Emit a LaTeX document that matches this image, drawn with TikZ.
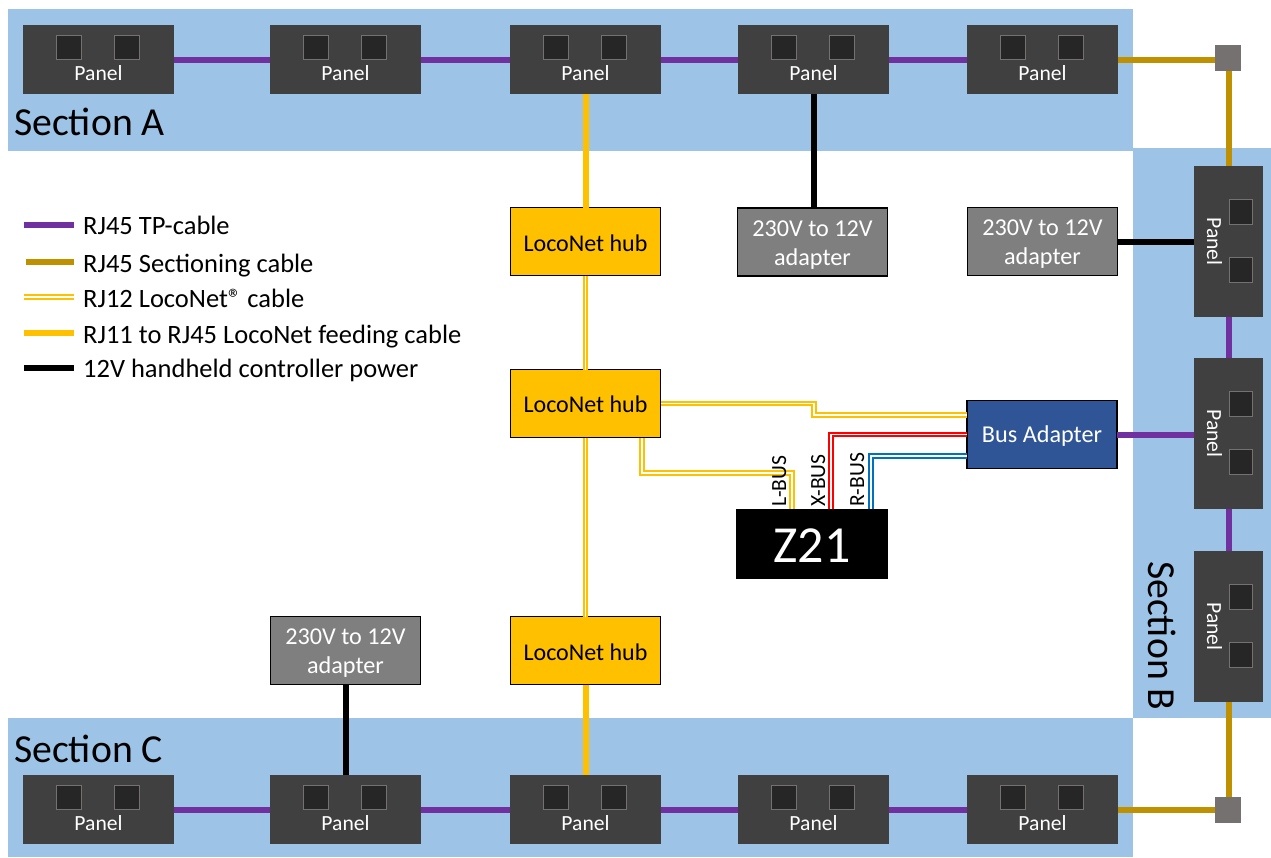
\documentclass[tikz,border=0pt]{standalone}
\usepackage{fontspec}
\setmainfont{Carlito}
\usetikzlibrary{calc}
\definecolor{band}{HTML}{9DC3E6}
\definecolor{pan}{HTML}{404040}
\definecolor{portf}{HTML}{262626}
\definecolor{portd}{HTML}{767171}
\definecolor{tp}{HTML}{7030A0}
\definecolor{sect}{HTML}{BF9000}
\definecolor{loco}{HTML}{FFC000}
\definecolor{adapt}{HTML}{7F7F7F}
\definecolor{busb}{HTML}{2F5597}
\definecolor{rbus}{HTML}{0070C0}
\newcommand{\lowertext}[2]{\raisebox{-#1}[\height][\depth]{#2}}
\newcommand{\adaptertext}{\lowertext{3pt}{\begin{tabular}{@{}c@{}}230V to 12V\\adapter\end{tabular}}}
\tikzset{
  x=1pt,y=-1pt,
  bandbox/.style={fill=band,draw=none,inner sep=0pt,outer sep=0pt,anchor=north west},
  panelh/.style={fill=pan,draw=none,minimum width=151pt,minimum height=69pt,inner sep=0pt,outer sep=0pt},
  panelv/.style={fill=pan,draw=none,minimum width=69pt,minimum height=151pt,inner sep=0pt,outer sep=0pt},
  portbox/.style={fill=portf,draw=portd,line width=1.3pt,minimum width=25.5pt,minimum height=23.5pt,inner sep=0pt,outer sep=0pt},
  plabel/.style={text=white,font=\fontsize{21.6}{24}\selectfont,inner sep=0pt},
  junction/.style={fill=portd,draw=none,minimum size=26pt,inner sep=0pt,outer sep=0pt},
  hub/.style={fill=loco,draw=black,line width=1.3pt,minimum width=150pt,minimum height=68pt,inner sep=0pt,outer sep=0pt,align=center,font=\fontsize{24}{28}\selectfont},
  adapter/.style={hub,fill=adapt,text=white,font=\fontsize{24.2}{29}\selectfont},
  busbox/.style={hub,fill=busb,text=white,font=\fontsize{24.2}{28}\selectfont},
  zbox/.style={fill=black,draw=none,minimum width=152pt,minimum height=70pt,inner sep=0pt,outer sep=0pt,text=white,font=\fontsize{52}{56}\selectfont},
  seclabel/.style={font=\fontsize{39.7}{44}\selectfont,inner sep=0pt,anchor=base west},
  leg/.style={font=\fontsize{26.5}{30}\selectfont,inner sep=0pt,anchor=base west},
  buslabel/.style={font=\fontsize{21.6}{24}\selectfont,inner sep=0pt,rotate=90,anchor=base west},
  tpc/.style={draw=tp,line width=6pt},
  secc/.style={draw=sect,line width=6pt},
  feedc/.style={draw=loco,line width=6pt},
  powc/.style={draw=black,line width=6pt},
  dbl/.style={draw=#1,line width=2pt,double=white,double distance=1.8pt,line join=miter},
}
\newcommand{\hpanel}[3]{%
  \node[panelh] (#1) at (#2,#3) {};
  \node[portbox] (#1a) at ($(#1.center)+(-29.5,-12)$) {};
  \node[portbox] (#1b) at ($(#1.center)+(28.5,-12)$) {};
  \node[plabel] (#1t) at ($(#1.center)+(0,14)$) {Panel};
}
\newcommand{\vpanel}[3]{%
  \node[panelv] (#1) at (#2,#3) {};
  \node[portbox,minimum width=23.5pt,minimum height=25.5pt] (#1a) at ($(#1.center)+(12.5,-29.5)$) {};
  \node[portbox,minimum width=23.5pt,minimum height=25.5pt] (#1b) at ($(#1.center)+(12.5,28.5)$) {};
  \node[plabel,rotate=-90] (#1t) at ($(#1.center)+(-14,0)$) {Panel};
}
\begin{document}
\begin{tikzpicture}
\useasboundingbox (0,0) rectangle (1271,857);
% section bands
\node[bandbox,minimum width=1125pt,minimum height=142pt] (bandA) at (8,9) {};
\node[bandbox,minimum width=138pt,minimum height=570pt] (bandB) at (1133,148) {};
\node[bandbox,minimum width=1125pt,minimum height=139pt] (bandC) at (8,718) {};
\node[seclabel] (secA) at (14,135) {Section A};
\node[seclabel] (secC) at (14,762) {Section C};
\node[font=\fontsize{39.7}{44}\selectfont,inner sep=0pt,rotate=-90,anchor=base west] (secB) at (1148,561) {Section B};
% panels
\hpanel{a1}{98.5}{59.5}
\hpanel{a2}{345.5}{59.5}
\hpanel{a3}{585.5}{59.5}
\hpanel{a4}{813.5}{59.5}
\hpanel{a5}{1042.5}{59.5}
\hpanel{c1}{98.5}{809.5}
\hpanel{c2}{345.5}{809.5}
\hpanel{c3}{585.5}{809.5}
\hpanel{c4}{813.5}{809.5}
\hpanel{c5}{1042.5}{809.5}
\vpanel{b1}{1228.5}{241.5}
\vpanel{b2}{1228.5}{433.5}
\vpanel{b3}{1228.5}{626.5}
\node[junction] (jt) at (1228,58) {};
\node[junction] (jb) at (1228,810) {};
% boxes
\node[hub] (h1) at (585.5,241.5) {\lowertext{1.5pt}{LocoNet hub}};
\node[hub] (h2) at (585.5,403.5) {\lowertext{1pt}{LocoNet hub}};
\node[hub] (h3) at (585.5,650.5) {\lowertext{1.5pt}{LocoNet hub}};
\node[adapter] (ad1) at (812.5,242) {\adaptertext};
\node[adapter] (ad2) at (1042.5,241.5) {\adaptertext};
\node[adapter] (ad3) at (345.5,650.5) {\adaptertext};
\node[busbox] (bus) at (1042,434.5) {\lowertext{2pt}{Bus Adapter}};
\node[zbox] (z) at (812,543.5) {\lowertext{2pt}{Z21}};
% cables
\foreach \p/\q in {a1/a2,a2/a3,a3/a4,a4/a5,c1/c2,c2/c3,c3/c4,c4/c5}
  \draw[tpc] (\p.east) -- (\q.west);
\draw[tpc] (b1.south) -- (b2.north);
\draw[tpc] (b2.south) -- (b3.north);
\draw[tpc] (bus.east) -- (b2.west |- bus.east);
\draw[secc] (a5.east) -- (jt.west |- a5.east);
\draw[secc] (c5.east) -- (jb.west |- c5.east);
\draw[secc] (jt.south -| b1.north) -- (b1.north);
\draw[secc] (b3.south) -- (jb.north -| b3.south);
\draw[feedc] (a3.south) -- (h1.north);
\draw[feedc] (h3.south) -- (c3.north);
\draw[powc] (a4.south) -- (a4.south |- ad1.north);
\draw[powc] (ad2.east) -- (b1.west);
\draw[powc] (ad3.south) -- (c2.north);
% double cables
\draw[dbl=loco,xshift=0.5pt] (h1.south) -- (h2.north);
\draw[dbl=loco,xshift=0.5pt] (h2.south) -- (h3.north);
\coordinate (ab) at (967,415);
\coordinate (lb) at (642,438);
\coordinate (xb) at (831,509);
\coordinate (rb) at (871,509);
\coordinate (ll) at (792,509);
\coordinate (rr) at (967,456);
\draw[dbl=loco] (h2.east) -- (814,403.5) -- (814,415) -- (ab);
\draw[dbl=loco] (lb) -- (642,473) -- (792,473) -- (ll);
\draw[dbl=red] (bus.west) -- (831,434.5) -- (xb);
\draw[dbl=rbus] (rr) -- (871,456) -- (rb);
\node[buslabel] (lbl) at (786,507) {L-BUS};
\node[buslabel] (xbl) at (825,507) {X-BUS};
\node[buslabel] (rbl) at (864,507) {R-BUS};
% legend
\coordinate (l1a) at (24,225); \coordinate (l1b) at (74,225);
\coordinate (l2a) at (26,262); \coordinate (l2b) at (74,262);
\coordinate (l3a) at (24,297); \coordinate (l3b) at (74,297);
\coordinate (l4a) at (24,333); \coordinate (l4b) at (74,333);
\coordinate (l5a) at (24,368); \coordinate (l5b) at (74,368);
\draw[tpc] (l1a) -- (l1b);
\draw[secc] (l2a) -- (l2b);
\draw[dbl=loco] (l3a) -- (l3b);
\draw[feedc] (l4a) -- (l4b);
\draw[powc] (l5a) -- (l5b);
\node[leg] (t1) at (83,234) {RJ45 TP-cable};
\node[leg] (t2) at (83,272) {RJ45 Sectioning cable};
\node[leg] (t3) at (83,307) {RJ12 LocoNet® cable};
\node[leg] (t4) at (83,343) {RJ11 to RJ45 LocoNet feeding cable};
\node[leg] (t5) at (83,377) {12V handheld controller power};
\end{tikzpicture}
\end{document}
